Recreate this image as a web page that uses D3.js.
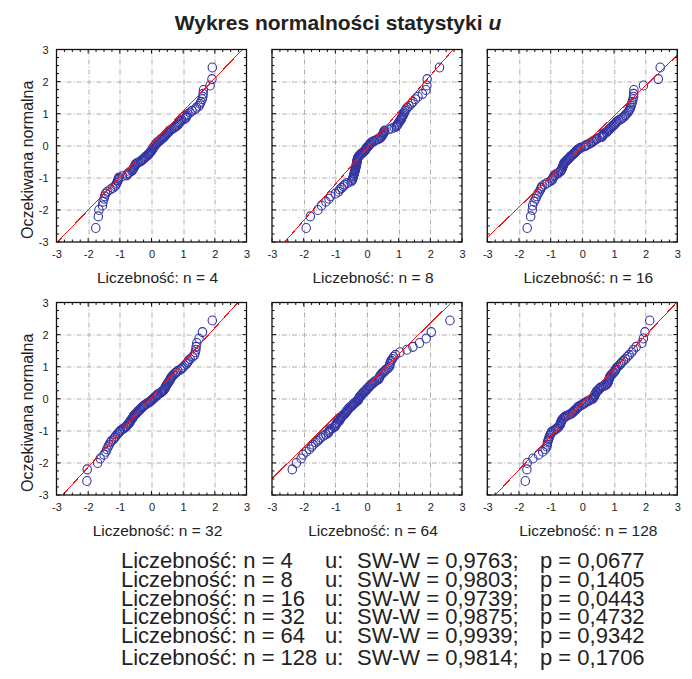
<!DOCTYPE html>
<html>
<head>
<meta charset="utf-8">
<script src="https://cdn.jsdelivr.net/npm/d3@7/dist/d3.min.js"></script>
<style>
  body { margin: 0; background: #fff; }
  svg { display: block; font-family: "Liberation Sans", Arial, Helvetica, sans-serif; }
</style>
</head>
<body>
<svg id="chart" width="692" height="679"></svg>
<script>
// Expected normal values (100 ranks), shared by every panel
const expectedNormal = [-2.50,-2.14,-1.94,-1.80,-1.68,-1.59,-1.51,-1.43,-1.37,-1.30,
  -1.25,-1.20,-1.15,-1.10,-1.05,-1.01,-0.97,-0.93,-0.89,-0.86,
  -0.82,-0.79,-0.75,-0.72,-0.69,-0.66,-0.63,-0.60,-0.57,-0.54,
  -0.51,-0.48,-0.45,-0.43,-0.40,-0.37,-0.34,-0.32,-0.29,-0.27,
  -0.24,-0.21,-0.19,-0.16,-0.14,-0.11,-0.09,-0.06,-0.04,-0.01,
  0.01,0.04,0.06,0.09,0.11,0.14,0.16,0.19,0.21,0.24,
  0.27,0.29,0.32,0.34,0.37,0.40,0.43,0.45,0.48,0.51,
  0.54,0.57,0.60,0.63,0.66,0.69,0.72,0.75,0.79,0.82,
  0.86,0.89,0.93,0.97,1.01,1.05,1.10,1.15,1.20,1.25,
  1.30,1.37,1.43,1.51,1.59,1.68,1.80,1.94,2.14,2.50];

// Observed (sorted) values of statistic u for each sample size
const observedN4 = [-1.76,-1.68,-1.66,-1.55,-1.53,-1.50,-1.48,-1.45,-1.40,-1.30,
  -1.22,-1.15,-1.12,-1.10,-1.07,-1.06,-1.05,-1.03,-0.92,-0.78,
  -0.76,-0.72,-0.68,-0.62,-0.60,-0.58,-0.56,-0.55,-0.53,-0.51,
  -0.50,-0.45,-0.40,-0.35,-0.32,-0.28,-0.25,-0.22,-0.20,-0.17,
  -0.12,-0.10,-0.08,-0.06,-0.04,-0.02,0.00,0.02,0.04,0.05,
  0.06,0.08,0.10,0.12,0.14,0.16,0.18,0.22,0.25,0.28,
  0.30,0.34,0.37,0.40,0.42,0.45,0.48,0.50,0.52,0.55,
  0.58,0.63,0.68,0.72,0.76,0.80,0.83,0.86,0.88,0.92,
  0.95,1.03,1.08,1.10,1.12,1.15,1.22,1.28,1.38,1.42,
  1.50,1.53,1.56,1.60,1.62,1.63,1.64,1.85,1.91,1.92];

const observedN8 = [-1.92,-1.79,-1.55,-1.44,-1.30,-1.20,-1.15,-1.00,-0.90,-0.86,
  -0.80,-0.75,-0.70,-0.62,-0.50,-0.47,-0.45,-0.44,-0.43,-0.42,
  -0.41,-0.40,-0.39,-0.38,-0.37,-0.37,-0.36,-0.35,-0.34,-0.34,
  -0.33,-0.33,-0.32,-0.32,-0.31,-0.31,-0.30,-0.29,-0.28,-0.26,
  -0.24,-0.21,-0.18,-0.15,-0.12,-0.09,-0.07,-0.05,-0.03,-0.02,
  0.00,0.03,0.05,0.07,0.09,0.11,0.14,0.19,0.23,0.29,
  0.35,0.40,0.43,0.45,0.47,0.49,0.51,0.52,0.53,0.54,
  0.56,0.68,0.78,0.86,0.92,0.94,0.96,0.98,1.00,1.03,
  1.06,1.08,1.09,1.11,1.14,1.16,1.18,1.20,1.23,1.27,
  1.33,1.40,1.45,1.53,1.61,1.75,1.86,1.89,1.90,2.29];

const observedN16 = [-1.74,-1.63,-1.58,-1.57,-1.52,-1.47,-1.44,-1.40,-1.36,-1.32,
  -1.30,-1.27,-1.19,-1.11,-1.02,-0.96,-0.94,-0.92,-0.90,-0.88,
  -0.82,-0.76,-0.70,-0.68,-0.66,-0.65,-0.64,-0.62,-0.61,-0.60,
  -0.59,-0.58,-0.55,-0.52,-0.50,-0.47,-0.43,-0.41,-0.39,-0.37,
  -0.33,-0.30,-0.28,-0.24,-0.22,-0.20,-0.18,-0.15,-0.11,-0.07,
  -0.04,0.06,0.10,0.14,0.20,0.25,0.28,0.33,0.36,0.40,
  0.44,0.46,0.55,0.62,0.64,0.66,0.67,0.70,0.76,0.79,
  0.82,0.85,0.88,0.91,0.94,0.98,1.01,1.04,1.07,1.10,
  1.16,1.22,1.27,1.32,1.35,1.39,1.44,1.47,1.50,1.52,
  1.54,1.56,1.58,1.60,1.62,1.62,1.63,1.93,2.40,2.46];

const observedN32 = [-2.04,-2.03,-1.70,-1.62,-1.50,-1.44,-1.41,-1.37,-1.34,-1.30,
  -1.26,-1.20,-1.16,-1.13,-1.08,-1.05,-1.01,-0.98,-0.92,-0.87,
  -0.82,-0.79,-0.76,-0.73,-0.70,-0.68,-0.67,-0.65,-0.62,-0.60,
  -0.58,-0.57,-0.55,-0.52,-0.49,-0.46,-0.44,-0.41,-0.38,-0.36,
  -0.34,-0.30,-0.28,-0.25,-0.22,-0.18,-0.14,-0.10,-0.06,-0.03,
  0.00,0.03,0.05,0.08,0.11,0.14,0.16,0.19,0.22,0.28,
  0.31,0.34,0.37,0.39,0.41,0.43,0.44,0.45,0.47,0.49,
  0.51,0.53,0.55,0.57,0.59,0.60,0.62,0.64,0.67,0.71,
  0.75,0.79,0.83,0.91,0.96,1.00,1.05,1.10,1.14,1.17,
  1.22,1.30,1.36,1.38,1.40,1.41,1.43,1.50,1.61,1.92];

// lowest value of this sample lies left of the axis range (clipped)
const observedN64 = [-3.20,-2.36,-2.23,-2.08,-2.02,-1.92,-1.82,-1.75,-1.70,-1.62,
  -1.56,-1.51,-1.46,-1.38,-1.30,-1.23,-1.21,-1.19,-1.16,-1.10,
  -1.03,-1.00,-0.98,-0.97,-0.95,-0.92,-0.88,-0.86,-0.85,-0.83,
  -0.81,-0.79,-0.76,-0.73,-0.70,-0.68,-0.65,-0.63,-0.62,-0.60,
  -0.58,-0.55,-0.52,-0.48,-0.46,-0.44,-0.41,-0.38,-0.35,-0.32,
  -0.29,-0.27,-0.26,-0.25,-0.24,-0.22,-0.19,-0.17,-0.15,-0.13,
  -0.10,-0.07,-0.04,-0.02,0.00,0.04,0.06,0.08,0.11,0.14,
  0.18,0.22,0.24,0.30,0.35,0.37,0.39,0.40,0.42,0.45,
  0.48,0.53,0.56,0.60,0.66,0.70,0.72,0.72,0.74,0.76,
  0.80,0.84,0.90,1.04,1.26,1.45,1.66,1.87,2.03,2.62];

const observedN128 = [-1.80,-1.75,-1.74,-1.56,-1.38,-1.25,-1.17,-1.12,-1.11,-1.10,
  -1.08,-1.07,-1.05,-1.03,-1.01,-0.99,-0.97,-0.90,-0.84,-0.80,
  -0.76,-0.73,-0.70,-0.69,-0.68,-0.67,-0.66,-0.65,-0.62,-0.59,
  -0.56,-0.52,-0.45,-0.40,-0.35,-0.31,-0.28,-0.25,-0.23,-0.20,
  -0.17,-0.15,-0.13,-0.08,-0.03,0.02,0.05,0.09,0.13,0.18,
  0.22,0.27,0.32,0.35,0.36,0.38,0.39,0.40,0.41,0.43,
  0.44,0.45,0.48,0.51,0.54,0.56,0.61,0.66,0.72,0.77,
  0.79,0.81,0.82,0.83,0.84,0.85,0.86,0.87,0.90,0.93,
  0.97,1.00,1.03,1.05,1.07,1.11,1.16,1.21,1.25,1.30,
  1.36,1.42,1.48,1.56,1.61,1.70,1.88,1.93,1.98,2.13];

const sampleSizes = [4, 8, 16, 32, 64, 128];
const observedSeries = [observedN4, observedN8, observedN16, observedN32, observedN64, observedN128];

// Fitted reference line: expected = intercept + slope * observed
const fitSlope = [1.027, 1.128, 0.947, 1.085, 0.968, 1.047];
const fitIntercept = [0.05, -0.07, -0.02, 0.04, 0.42, -0.12];

// Shapiro-Wilk results
const swW = ["0,9763", "0,9803", "0,9739", "0,9875", "0,9939", "0,9814"];
const swP = ["0,0677", "0,1405", "0,0443", "0,4732", "0,9342", "0,1706"];

const axisTicks = [-3, -2, -1, 0, 1, 2, 3];
const gridValues = [-2, -1, 0, 1, 2];
const minorTicks = d3.range(-3, 3.001, 0.25);

const svg = d3.select("#chart");
const W = 190, H = 192.5;
const colX = [56.5, 272, 487.3];
const rowY = [49.5, 302.5];
const textColor = "#222";

// Title
const title = svg.append("text")
  .attr("x", 338).attr("y", 30)
  .attr("text-anchor", "middle")
  .attr("font-size", 21).attr("font-weight", "bold")
  .attr("fill", textColor);
title.append("tspan").text("Wykres normalności statystyki ");
title.append("tspan").attr("font-style", "italic").text("u");

const x = d3.scaleLinear().domain([-3, 3]).range([0, W]);
const y = d3.scaleLinear().domain([-3, 3]).range([H, 0]);

sampleSizes.forEach((n, i) => {
  const col = i % 3, row = Math.floor(i / 3);
  const g = svg.append("g").attr("transform", `translate(${colX[col]},${rowY[row]})`);
  const clipId = `clip${i}`;
  g.append("clipPath").attr("id", clipId)
    .append("rect").attr("width", W).attr("height", H);

  // dash-dot grid
  const grid = g.append("g").attr("stroke", "#b0b0b0").attr("stroke-width", 1)
    .attr("stroke-dasharray", "5,2,1,2");
  grid.selectAll("line.v").data(gridValues).join("line").attr("class", "v")
    .attr("x1", d => Math.round(x(d)) + 0.5).attr("x2", d => Math.round(x(d)) + 0.5)
    .attr("y1", 0).attr("y2", H);
  grid.selectAll("line.h").data(gridValues).join("line").attr("class", "h")
    .attr("y1", d => Math.round(y(d)) + 0.5).attr("y2", d => Math.round(y(d)) + 0.5)
    .attr("x1", 0).attr("x2", W);

  const plot = g.append("g").attr("clip-path", `url(#${clipId})`);

  // data points
  const pts = observedSeries[i].map((v, k) => ({ u: v, e: expectedNormal[k] }));
  plot.append("g").selectAll("ellipse").data(pts).join("ellipse")
    .attr("cx", d => x(d.u)).attr("cy", d => y(d.e) + 2)
    .attr("rx", 4.2).attr("ry", 4.5)
    .attr("fill", "none").attr("stroke", "#3434a2").attr("stroke-width", 1.1);

  // fitted line
  const ends = [-3.5, 3.5].map(u => ({ u, e: fitIntercept[i] + fitSlope[i] * u }));
  plot.append("path").datum(ends)
    .attr("d", d3.line().x(d => x(d.u)).y(d => y(d.e)))
    .attr("fill", "none").attr("stroke", "#f01818").attr("stroke-width", 1)
    .attr("shape-rendering", "crispEdges");

  // inward minor/major ticks on all sides
  const tk = g.append("g").attr("stroke", "#111").attr("stroke-width", 1);
  const len = d => Number.isInteger(d) ? 4 : 2.5;
  tk.selectAll("line.b").data(minorTicks).join("line").attr("class", "b")
    .attr("x1", d => x(d)).attr("x2", d => x(d)).attr("y1", H).attr("y2", d => H - len(d));
  tk.selectAll("line.t").data(minorTicks).join("line").attr("class", "t")
    .attr("x1", d => x(d)).attr("x2", d => x(d)).attr("y1", 0).attr("y2", d => len(d));
  tk.selectAll("line.l").data(minorTicks).join("line").attr("class", "l")
    .attr("y1", d => y(d)).attr("y2", d => y(d)).attr("x1", 0).attr("x2", d => len(d));
  tk.selectAll("line.r").data(minorTicks).join("line").attr("class", "r")
    .attr("y1", d => y(d)).attr("y2", d => y(d)).attr("x1", W).attr("x2", d => W - len(d));

  // frame
  g.append("rect").attr("width", W).attr("height", H)
    .attr("fill", "none").attr("stroke", "#111").attr("stroke-width", 1.3);

  // tick labels
  const xAxis = g.append("g").attr("transform", `translate(0,${H})`)
    .call(d3.axisBottom(x).tickValues(axisTicks).tickSize(0).tickPadding(8).tickFormat(d => String(d)));
  xAxis.select(".domain").remove();
  xAxis.selectAll("text").attr("font-size", 11).attr("fill", textColor)
    .attr("font-family", "Liberation Sans, Arial, sans-serif");

  if (col === 0) {
    const yAxis = g.append("g")
      .call(d3.axisLeft(y).tickValues(axisTicks).tickSize(0).tickPadding(8).tickFormat(d => String(d)));
    yAxis.select(".domain").remove();
    yAxis.selectAll("text").attr("font-size", 11).attr("fill", textColor)
      .attr("font-family", "Liberation Sans, Arial, sans-serif");

    g.append("text")
      .attr("transform", `translate(${32.5 - colX[0]},${H / 2 + 14}) rotate(-90)`)
      .attr("text-anchor", "middle").attr("font-size", 16).attr("fill", textColor)
      .text("Oczekiwana normalna");
  }

  // panel caption
  g.append("text")
    .attr("x", W / 2 + 6).attr("y", H + 41)
    .attr("text-anchor", "middle").attr("font-size", 15.5).attr("fill", textColor)
    .text(`Liczebność: n = ${n}`);
});

// Summary of normality tests
const lineY = [568, 587, 605.5, 624, 643, 665];
const summary = svg.append("g").attr("font-size", 22).attr("fill", textColor);
sampleSizes.forEach((n, i) => {
  const yy = lineY[i];
  summary.append("text").attr("x", 121).attr("y", yy).text(`Liczebność: n = ${n}`);
  summary.append("text").attr("x", 325).attr("y", yy).text("u:");
  summary.append("text").attr("x", 357).attr("y", yy).text(`SW-W = ${swW[i]};`);
  summary.append("text").attr("x", 540).attr("y", yy).text(`p = ${swP[i]}`);
});
</script>
</body>
</html>
